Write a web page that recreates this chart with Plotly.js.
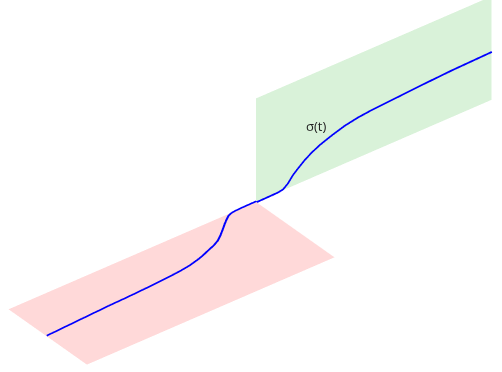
<!DOCTYPE html>
<html>
<head>
<meta charset="utf-8">
<script src="https://cdn.plot.ly/plotly-3.0.1.min.js"></script>
<style>html,body{margin:0;padding:0;background:#fff;}#plot{width:502px;height:372px;}</style>
</head>
<body>
<div id="plot"></div>
<script>
// Red (horizontal) plane corners: x, y, z
const redPlaneX = [-1.025, 0, 0, -1.025];
const redPlaneY = [-1, -1, 0, 0];
const redPlaneZ = [0, 0, 0, 0];
// Green (vertical) plane corners
const greenPlaneX = [0, 0.975, 0.975, 0];
const greenPlaneY = [0, 0, 0, 0];
const greenPlaneZ = [0, 0, 1, 1];

// Curve on the red plane (z = 0)
const curveRedX = [-1.025, -0.886, -0.742, -0.694, -0.628, -0.569, -0.510, -0.451, -0.404, -0.357, -0.331, -0.305, -0.269, -0.240, -0.214, -0.188, -0.161, -0.142, -0.123, -0.106, -0.090, -0.073, -0.050, 0];
const curveRedY = [-0.488, -0.470, -0.452, -0.449, -0.442, -0.434, -0.424, -0.412, -0.395, -0.366, -0.345, -0.320, -0.288, -0.252, -0.205, -0.153, -0.097, -0.060, -0.027, -0.011, -0.005, -0.003, -0.0015, 0];
// Curve on the green plane (y = 0)
const curveGreenX = [0, 0.047, 0.089, 0.110, 0.130, 0.151, 0.172, 0.200, 0.228, 0.2625, 0.297, 0.3154, 0.3638, 0.4196, 0.475, 0.530, 0.586, 0.642, 0.680, 0.808, 0.975];
const curveGreenZ = [0, 0.002, 0.004, 0.013, 0.050, 0.110, 0.153, 0.206, 0.248, 0.288, 0.318, 0.333, 0.368, 0.393, 0.407, 0.416, 0.424, 0.433, 0.439, 0.455, 0.466];

const labelText = 'σ(t)';
const labelPos = {x: 0.248, y: 0, z: 0.483};

const flatLight = {ambient: 1, diffuse: 0, specular: 0, roughness: 1, fresnel: 0};
const eps = 0.004;

const traces = [
  {type: 'mesh3d', x: redPlaneX, y: redPlaneY, z: redPlaneZ, i: [0, 0], j: [1, 2], k: [2, 3],
   color: '#FFD9D9', flatshading: true, lighting: flatLight, hoverinfo: 'skip'},
  {type: 'mesh3d', x: greenPlaneX, y: greenPlaneY, z: greenPlaneZ, i: [0, 0], j: [1, 2], k: [2, 3],
   color: '#D9F2D9', flatshading: true, lighting: flatLight, hoverinfo: 'skip'},
  {type: 'scatter3d', mode: 'lines',
   x: curveRedX.concat(curveGreenX),
   y: curveRedY.concat(curveGreenX.map(() => -eps)),
   z: curveRedX.map(() => eps).concat(curveGreenZ),
   line: {color: '#0000FF', width: 4}, hoverinfo: 'skip'}
];

const hidden = {showgrid: false, zeroline: false, showline: false, showticklabels: false,
  showbackground: false, showspikes: false, ticks: '', title: {text: ''}};
const layout = {
  width: 502, height: 372,
  margin: {l: 0, r: 0, t: 0, b: 0},
  paper_bgcolor: '#fff',
  showlegend: false,
  scene: {
    xaxis: Object.assign({range: [-1.025, 0.975]}, hidden),
    yaxis: Object.assign({range: [-1, 0]}, hidden),
    zaxis: Object.assign({range: [0, 1]}, hidden),
    aspectmode: 'manual',
    aspectratio: {x: 3.3, y: 0.684, z: 0.669},
    camera: {
      projection: {type: 'orthographic'},
      up: {x: 0, y: 0, z: 1},
      center: {x: -0.172, y: 0.114, z: -0.025},
      eye: {x: -0.943, y: -0.870, z: 0.805}
    },
    annotations: [{x: labelPos.x, y: labelPos.y, z: labelPos.z, text: labelText, showarrow: false,
      font: {size: 13, color: '#222'}}]
  }
};
Plotly.newPlot('plot', traces, layout, {displayModeBar: false});
</script>
</body>
</html>
